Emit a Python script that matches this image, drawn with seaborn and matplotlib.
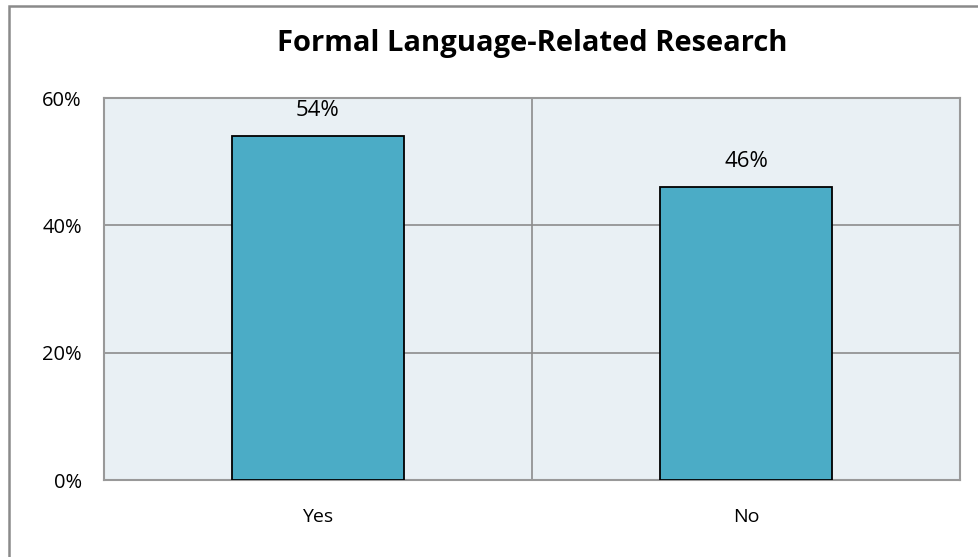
import pandas as pd
import seaborn as sns
import matplotlib.pyplot as plt
from matplotlib.patches import Rectangle
from matplotlib.ticker import FixedLocator

respostas = ['Yes', 'No']
percentuais = [54, 46]
yticks = [0, 20, 40, 60]
titulo = 'Formal Language-Related Research'

df = pd.DataFrame({'resposta': respostas, 'pct': percentuais})

sns.set_theme(style='white')
plt.rcParams['font.family'] = ['Open Sans', 'DejaVu Sans']
plt.rcParams['text.color'] = 'black'
plt.rcParams['xtick.color'] = 'black'
plt.rcParams['ytick.color'] = 'black'

fig = plt.figure(figsize=(9.79, 5.57), dpi=100)
ax = fig.add_axes([104/979, 77/557, 856/979, 382/557])
ax.set_facecolor('#E9F0F4')

sns.barplot(data=df, x='resposta', y='pct', color='#4BACC6', saturation=1,
            width=0.4, edgecolor='black', linewidth=1.3, ax=ax, zorder=3)

ax.set_xlim(-0.5, 1.5)
ax.set_ylim(0, 60)
ax.set_yticks(yticks)
ax.set_yticklabels([f'{v}%' for v in yticks], fontsize=14.5)
ax.xaxis.set_minor_locator(FixedLocator([0.5]))
ax.grid(axis='y', which='major', color='#8C8C8C', linewidth=1.2, zorder=0)
ax.grid(axis='x', which='minor', color='#8C8C8C', linewidth=1.2, zorder=0)
ax.set_axisbelow(True)
ax.tick_params(axis='x', which='major', length=0, pad=20, labelsize=14)
ax.tick_params(axis='x', which='minor', length=0)
ax.tick_params(axis='y', length=0, pad=16)
ax.set_xlabel('')
ax.set_ylabel('')
for s in ax.spines.values():
    s.set_color('#999999')
    s.set_linewidth(1.5)

for i, v in enumerate(percentuais):
    ax.annotate(f'{v}%', (i, v), xytext=(0, 11), textcoords='offset points',
                ha='center', va='bottom', fontsize=16)

fig.text(532/979, 1 - 44/557, titulo, ha='center', va='center',
         fontsize=21, fontweight='bold')

fig.patches.append(Rectangle((9/979, -0.1), 2, 1 - 6/557 + 0.1,
                             transform=fig.transFigure, fill=False,
                             edgecolor='#8A8A8A', linewidth=1.8))

fig.savefig('out.png', dpi=100)
